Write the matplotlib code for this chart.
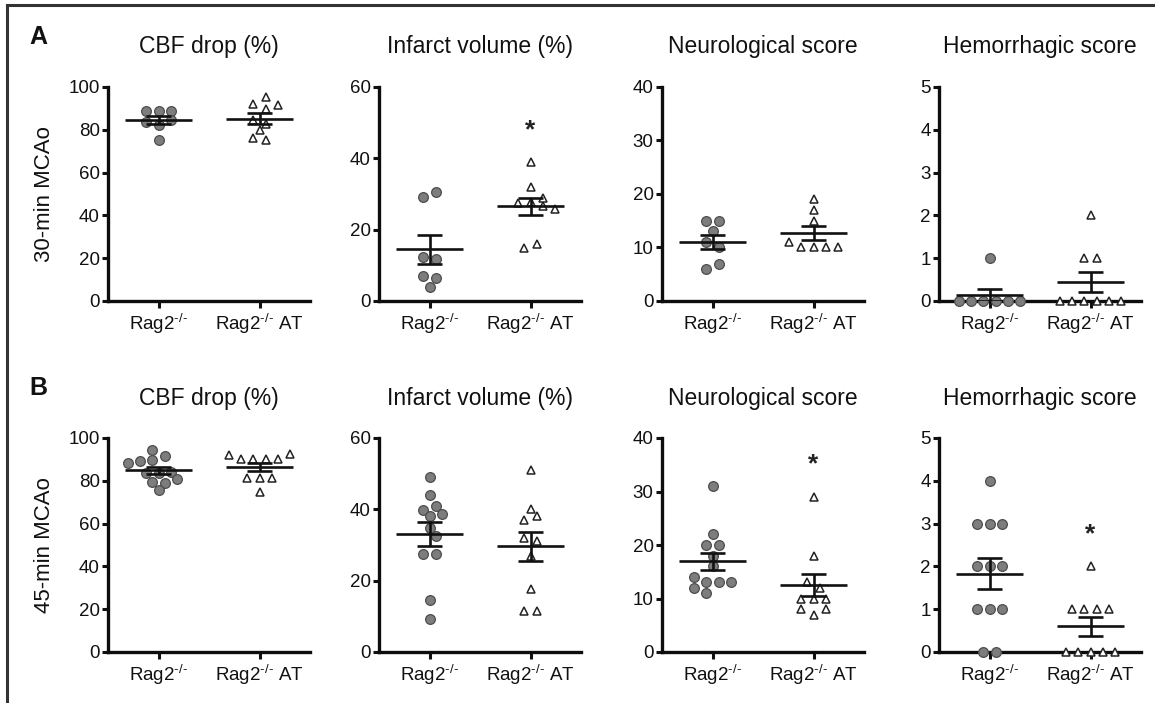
import numpy as np
import matplotlib
matplotlib.use("Agg")
import matplotlib.pyplot as plt
from matplotlib.lines import Line2D

plt.rcParams['font.family'] = ['Liberation Sans', 'DejaVu Sans']
plt.rcParams['mathtext.fontset'] = 'custom'
plt.rcParams['mathtext.rm'] = 'Liberation Sans'
plt.rcParams['mathtext.it'] = 'Liberation Sans:italic'
plt.rcParams['mathtext.bf'] = 'Liberation Sans:bold'

# --- data ---
groups = ["Rag2$^{\\text{-/-}}$", "Rag2$^{\\text{-/-}}$ AT"]
titles = ["CBF drop (%)", "Infarct volume (%)", "Neurological score", "Hemorrhagic score"]
row_labels = ["30-min MCAo", "45-min MCAo"]
panel_letters = ["A", "B"]
ymaxs = [100, 60, 40, 5]
ysteps = [20, 20, 10, 1]

# 30-min MCAo
cbf_30_rag = [89, 89, 89, 83.7, 82.4, 84.8, 75]
cbf_30_at = [92, 89.5, 91.5, 95.2, 84.8, 82.6, 79.8, 76.4, 75.1]
inf_30_rag = [29.2, 30.6, 12.3, 11.9, 6.9, 6.4, 3.9]
inf_30_at = [38.9, 32.1, 27.6, 26.6, 25.7, 27.8, 29.0, 14.9, 16.0]
neuro_30_rag = [15, 15, 13, 11, 10, 6, 7]
neuro_30_at = [19, 17, 15, 11, 10, 10, 10, 10]
hem_30_rag = [1, 0, 0, 0, 0, 0, 0]
hem_30_at = [2, 1, 1, 0, 0, 0, 0, 0, 0]

# 45-min MCAo
cbf_45_rag = [94.4, 91.6, 88.2, 89.3, 89.7, 83.5, 83.5, 84.3, 79.6, 79.1, 80.8, 75.7]
cbf_45_at = [92.1, 90, 90, 90, 90, 92.5, 81.4, 81.4, 81.4, 74.9]
inf_45_rag = [49.2, 44.1, 39.8, 38, 38.7, 40.9, 34.7, 32.6, 27.4, 27.4, 14.6, 9.3]
inf_45_at = [50.9, 40.1, 37.0, 38.0, 32.1, 31.2, 27.0, 17.6, 11.5, 11.5]
neuro_45_rag = [31, 22, 20, 20, 18, 16, 14, 13, 13, 13, 12, 11]
neuro_45_at = [29, 18, 13, 12, 10, 10, 10, 8, 7, 8]
hem_45_rag = [4, 3, 3, 3, 2, 2, 2, 1, 1, 1, 0, 0]
hem_45_at = [2, 1, 1, 1, 1, 0, 0, 0, 0, 0]

# significance (* over AT group)
sig_30 = [False, True, False, False]
sig_45 = [False, False, True, True]

rows = [
    [(cbf_30_rag, cbf_30_at), (inf_30_rag, inf_30_at), (neuro_30_rag, neuro_30_at), (hem_30_rag, hem_30_at)],
    [(cbf_45_rag, cbf_45_at), (inf_45_rag, inf_45_at), (neuro_45_rag, neuro_45_at), (hem_45_rag, hem_45_at)],
]
sigs = [sig_30, sig_45]

W, H = 1155, 703
fig = plt.figure(figsize=(W / 100, H / 100), dpi=100)

ax_left_px = [108, 379, 662, 939]
ax_w_px = 202
ax_top_px = [87, 438]
ax_h_px = 214
step = 0.12          # horizontal spacing between dots (category units)
dot_px = 9.0


def swarm(vals, ymax):
    # GraphPad-like scatter: rows of similar values, spread symmetrically,
    # shifted by half a step when a row bumps into the previous one
    vals = np.asarray(vals, float)
    ypx = ax_h_px / ymax
    xpx = ax_w_px / 2.0
    tol = 7.0 / ypx
    order = np.argsort(-vals, kind='stable')
    grp = []
    for i in order:
        if grp and vals[grp[-1][0]] - vals[i] < tol:
            grp[-1].append(i)
        else:
            grp.append([i])
    offs = np.zeros(len(vals))
    placed = []
    shifts = [0, 0.5, -0.5, 1, -1, 1.5, -1.5, 2, -2]
    for g in grp:
        g = sorted(g)
        k = len(g)
        base = np.array([(j - (k - 1) / 2) for j in range(k)]) * step
        for sh in shifts:
            xs = base + sh * step
            ok = True
            for x, i in zip(xs, g):
                for (px, py) in placed:
                    d = np.hypot((x - px) * xpx, (vals[i] - py) * ypx)
                    if d < dot_px * 0.9:
                        ok = False
                        break
                if not ok:
                    break
            if ok:
                break
        for x, i in zip(xs, g):
            offs[i] = x
            placed.append((x, vals[i]))
    return offs


for r in range(2):
    for c in range(4):
        left = ax_left_px[c] / W
        bottom = (H - ax_top_px[r] - ax_h_px) / H
        ax = fig.add_axes([left, bottom, ax_w_px / W, ax_h_px / H])
        ymax = ymaxs[c]
        rag, at = rows[r][c]

        for gi, vals in enumerate([rag, at]):
            vals = np.asarray(vals, float)
            xs = gi + swarm(vals, ymax)
            if gi == 0:
                ax.plot(xs, vals, 'o', ms=7.0, mfc='#7d7d7d', mec='#4d4d4d', mew=0.9,
                        ls='none', clip_on=False, zorder=3)
            else:
                ax.plot(xs, vals, '^', ms=6.3, mfc='white', mec='#222222', mew=1.1,
                        ls='none', clip_on=False, zorder=3)
            m = vals.mean()
            sem = vals.std(ddof=1) / np.sqrt(len(vals))
            kw = dict(color='#111111', lw=1.9, zorder=4, solid_capstyle='butt')
            ax.plot([gi - 0.33, gi + 0.33], [m, m], **kw)
            ax.plot([gi - 0.12, gi + 0.12], [m + sem, m + sem], **kw)
            ax.plot([gi - 0.12, gi + 0.12], [m - sem, m - sem], **kw)
            ax.plot([gi, gi], [m - sem, m + sem], **kw)
            if gi == 1 and sigs[r][c]:
                ax.text(gi, vals.max() + 0.15 * ymax, '*', ha='center', va='center',
                        fontsize=19, fontweight='bold', color='#222222')

        ax.set_xlim(-0.5, 1.5)
        ax.set_ylim(0, ymax)
        ax.set_yticks(np.arange(0, ymax + 0.01, ysteps[c]))
        ax.set_yticklabels([f"{v:g}" for v in np.arange(0, ymax + 0.01, ysteps[c])])
        ax.set_xticks([0, 1])
        ax.set_xticklabels(groups)
        for s in ['top', 'right']:
            ax.spines[s].set_visible(False)
        for s in ['left', 'bottom']:
            ax.spines[s].set_linewidth(2.4)
            ax.spines[s].set_color('#0d0d0d')
        ax.tick_params(axis='y', length=4, width=2.2, labelsize=13.5, pad=2, colors='#111111')
        ax.tick_params(axis='x', length=5, width=2.2, labelsize=13.5, pad=3, colors='#111111')
        ax.patch.set_visible(False)

        # panel title
        cx = (ax_left_px[c] + ax_w_px / 2) / W
        ty = (ax_top_px[r] - 40) / H
        fig.text(cx, 1 - ty, titles[c], ha='center', va='center', fontsize=16.5, color='#111111')

    # row label and panel letter
    cy = 1 - (ax_top_px[r] + ax_h_px / 2) / H
    fig.text(45 / W, cy, row_labels[r], rotation=90, ha='center', va='center',
             fontsize=16, color='#111111')
    fig.text(38 / W, 1 - (ax_top_px[r] - 50) / H, panel_letters[r], ha='center', va='center',
             fontsize=18, fontweight='bold', color='#111111')

# frame lines (top and left)
fig.add_artist(Line2D([7 / W, 1], [1 - 5 / H, 1 - 5 / H], color='#333333', lw=2.2))
fig.add_artist(Line2D([7 / W, 7 / W], [0, 1 - 5 / H], color='#333333', lw=2.2))

fig.savefig("out.png", dpi=100)
